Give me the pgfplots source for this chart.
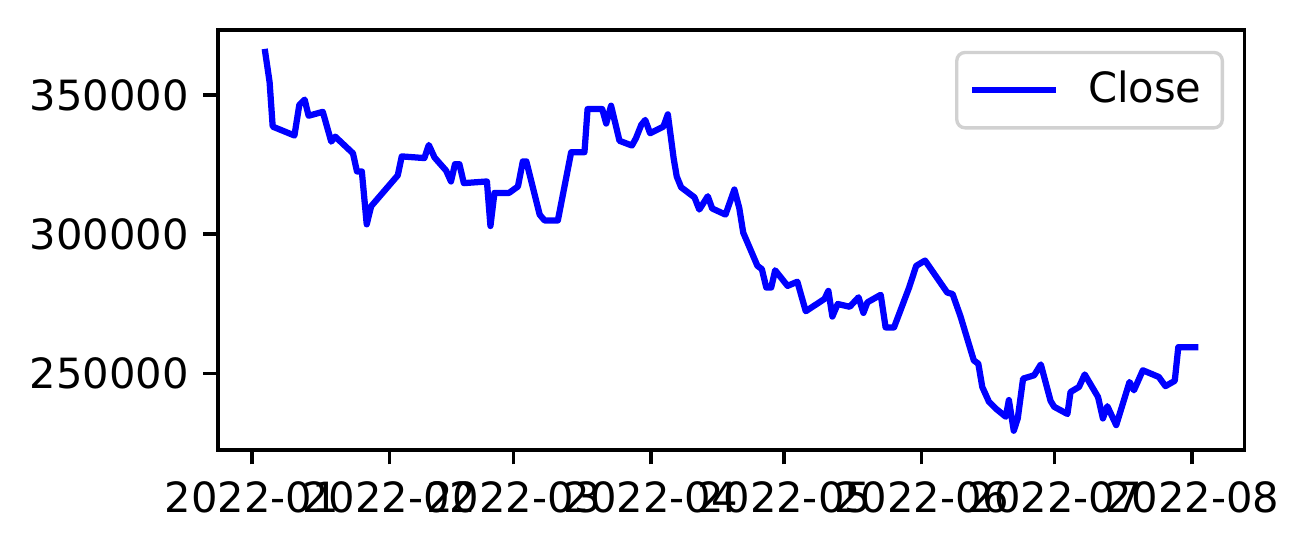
\documentclass[border=0pt]{standalone}
\usepackage{pgfplots}
\pgfplotsset{compat=1.18}
\usepackage{fontspec}
\setmainfont{DejaVu Sans}
\begin{document}
\begin{tikzpicture}
\begin{axis}[
  scale only axis,
  width=246.5pt, height=100.8pt,
  xmin=-7.66, xmax=223.9,
  ymin=222500, ymax=373300,
  xtick={0,31,59,90,120,151,181,212},
  xticklabels={2022-01,2022-02,2022-03,2022-04,2022-05,2022-06,2022-07,2022-08},
  ytick={250000,300000,350000},
  yticklabels={250000,300000,350000},
  scaled y ticks=false,
  tick label style={font=\fontsize{10pt}{12pt}\selectfont},
  tick align=outside,
  major tick length=3.5pt,
  xtick pos=bottom, ytick pos=left,
  axis line style={line width=0.8pt},
  every tick/.style={line width=0.8pt, black},
  xticklabel style={yshift=-0.5pt},
  legend style={at={(1,1)}, anchor=north east, xshift=-5pt, yshift=-5pt,
    draw=black!18, line width=0.8pt, rounded corners=2pt,
    font=\fontsize{10pt}{12pt}\selectfont, inner xsep=3pt, inner ysep=2.5pt,
    column sep=5pt},
  legend image code/.code={\draw[#1] (0pt,0pt) -- (20pt,0pt);},
  legend cell align=left,
]
\addplot[blue, line width=1.5pt, line join=round] coordinates {
(2.9,366500) (4.0,354600) (4.7,338600) (9.6,335400) (10.7,346400) (11.9,348300)
(12.8,342500) (16.0,343900) (17.9,333200) (18.8,335000) (22.8,329000) (23.7,322500)
(24.8,322500) (25.9,303500) (26.9,310000) (32.9,321100) (33.8,327900) (38.9,327300)
(39.9,332000) (41.2,327500) (43.8,322800) (44.9,318900) (45.8,325100) (46.8,325100)
(47.8,318300) (53.0,318900) (53.8,302900) (54.7,314800) (58.0,314800) (60.0,317100)
(61.1,326100) (61.9,326100) (64.9,307000) (66.0,304900) (69.0,304900) (72.0,329400)
(75.0,329400) (75.7,344900) (79.0,344900) (79.9,339700) (81.0,346100) (82.9,333500)
(85.7,331800) (86.6,334400) (87.8,339200) (88.7,341000) (89.8,336200) (92.8,338600)
(93.8,343000) (95.1,327300) (95.8,320700) (96.8,316800) (99.8,313200) (100.9,308800)
(102.8,313600) (103.8,309200) (106.8,307000) (108.8,316000) (109.9,309400) (110.8,300500)
(114.0,288600) (115.0,287400) (116.0,280800) (117.1,280800) (118.0,287000) (120.8,281400)
(123.0,282900) (124.9,272300) (129.1,276700) (130.0,279600) (130.9,270400) (132.1,274900)
(134.8,273900) (136.8,277300) (137.9,271700) (138.8,275500) (141.8,278200) (142.9,266500)
(144.8,266500) (148.2,280800) (149.8,288600) (151.8,290500) (156.8,279000) (158.0,278500)
(159.8,270400) (162.8,254600) (163.8,253500) (164.7,245100) (166.2,239800) (167.7,237400)
(170.0,234400) (170.7,240400) (171.8,229400) (172.7,233800) (173.9,248100) (176.4,249300)
(177.9,253200) (180.1,240100) (180.9,238000) (183.9,235400) (184.6,243300) (186.5,245100)
(187.8,249600) (190.8,241500) (191.9,233800) (192.9,238200) (194.9,231400) (197.9,246900)
(198.9,243900) (200.9,251100) (204.5,248700) (206.0,245400) (208.1,247300) (208.9,259400)
(213.4,259400)
};
\addlegendentry{Close}
\end{axis}
\path (current axis.south west) ++(-52.3pt,-24.2pt) (current axis.north east) ++(15.4pt,7.2pt);
\end{tikzpicture}
\end{document}
